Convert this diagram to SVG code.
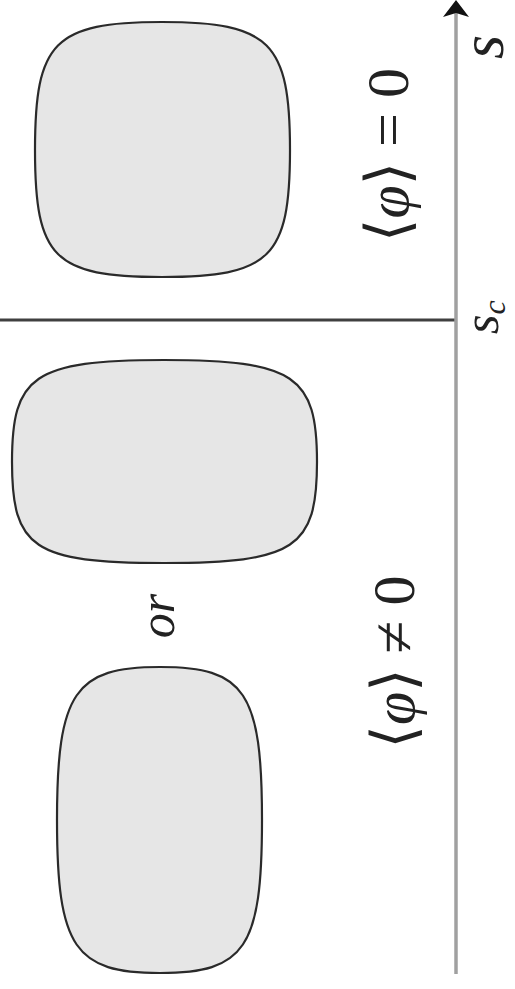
<svg xmlns="http://www.w3.org/2000/svg" width="515" height="989" viewBox="0 0 515 989">
<style>
.blob{fill:#e6e6e6;stroke:#2a2a2a;stroke-width:2.2}
.lbl{font-family:"Liberation Serif","DejaVu Serif",serif;fill:#222}
.it{font-style:italic}
</style>
<rect width="515" height="989" fill="#fff"/>
<g id="connectors">
<line x1="0" y1="320" x2="456" y2="320" stroke="#404040" stroke-width="3"/>
<line x1="456" y1="974" x2="456" y2="12" stroke="#a0a0a0" stroke-width="3.5"/>
<path d="M456,0 L469,17 L456,13 L443,17 Z" fill="#111"/>
</g>
<g id="shape-top">
<path class="blob" d="M290,150 C290,258 270,277 162,277 C54,277 35,258 35,150 C35,42 54,22 162,22 C270,22 290,42 290,150 Z"/>
</g>
<g id="shape-middle">
<path class="blob" d="M317,462 C317,548 295,563 164,563 C33,563 12,548 12,462 C12,376 33,360 164,360 C295,360 317,376 317,462 Z"/>
</g>
<g id="shape-bottom">
<path class="blob" d="M262,820 C262,948 245,973 160,973 C75,973 57,948 57,820 C57,692 75,667 160,667 C245,667 262,692 262,820 Z"/>
</g>
<g id="label-or">
<text class="lbl it" transform="translate(174,616) rotate(-90)" text-anchor="middle" font-size="50">or</text>
</g>
<g id="label-eq">
<text class="lbl" transform="translate(408,155) rotate(-90)" text-anchor="middle" font-size="60">⟨<tspan class="it">φ</tspan>⟩ = 0</text>
</g>
<g id="label-neq">
<text class="lbl" transform="translate(414,662) rotate(-90)" text-anchor="middle" font-size="60">⟨<tspan class="it">φ</tspan>⟩ ≠ 0</text>
</g>
<g id="label-s">
<text class="lbl it" transform="translate(503,47) rotate(-90)" text-anchor="middle" font-size="62">s</text>
</g>
<g id="label-sc">
<text class="lbl it" transform="translate(498,334) rotate(-90)" font-size="50">s<tspan font-size="32" dy="7">c</tspan></text>
</g>
</svg>
